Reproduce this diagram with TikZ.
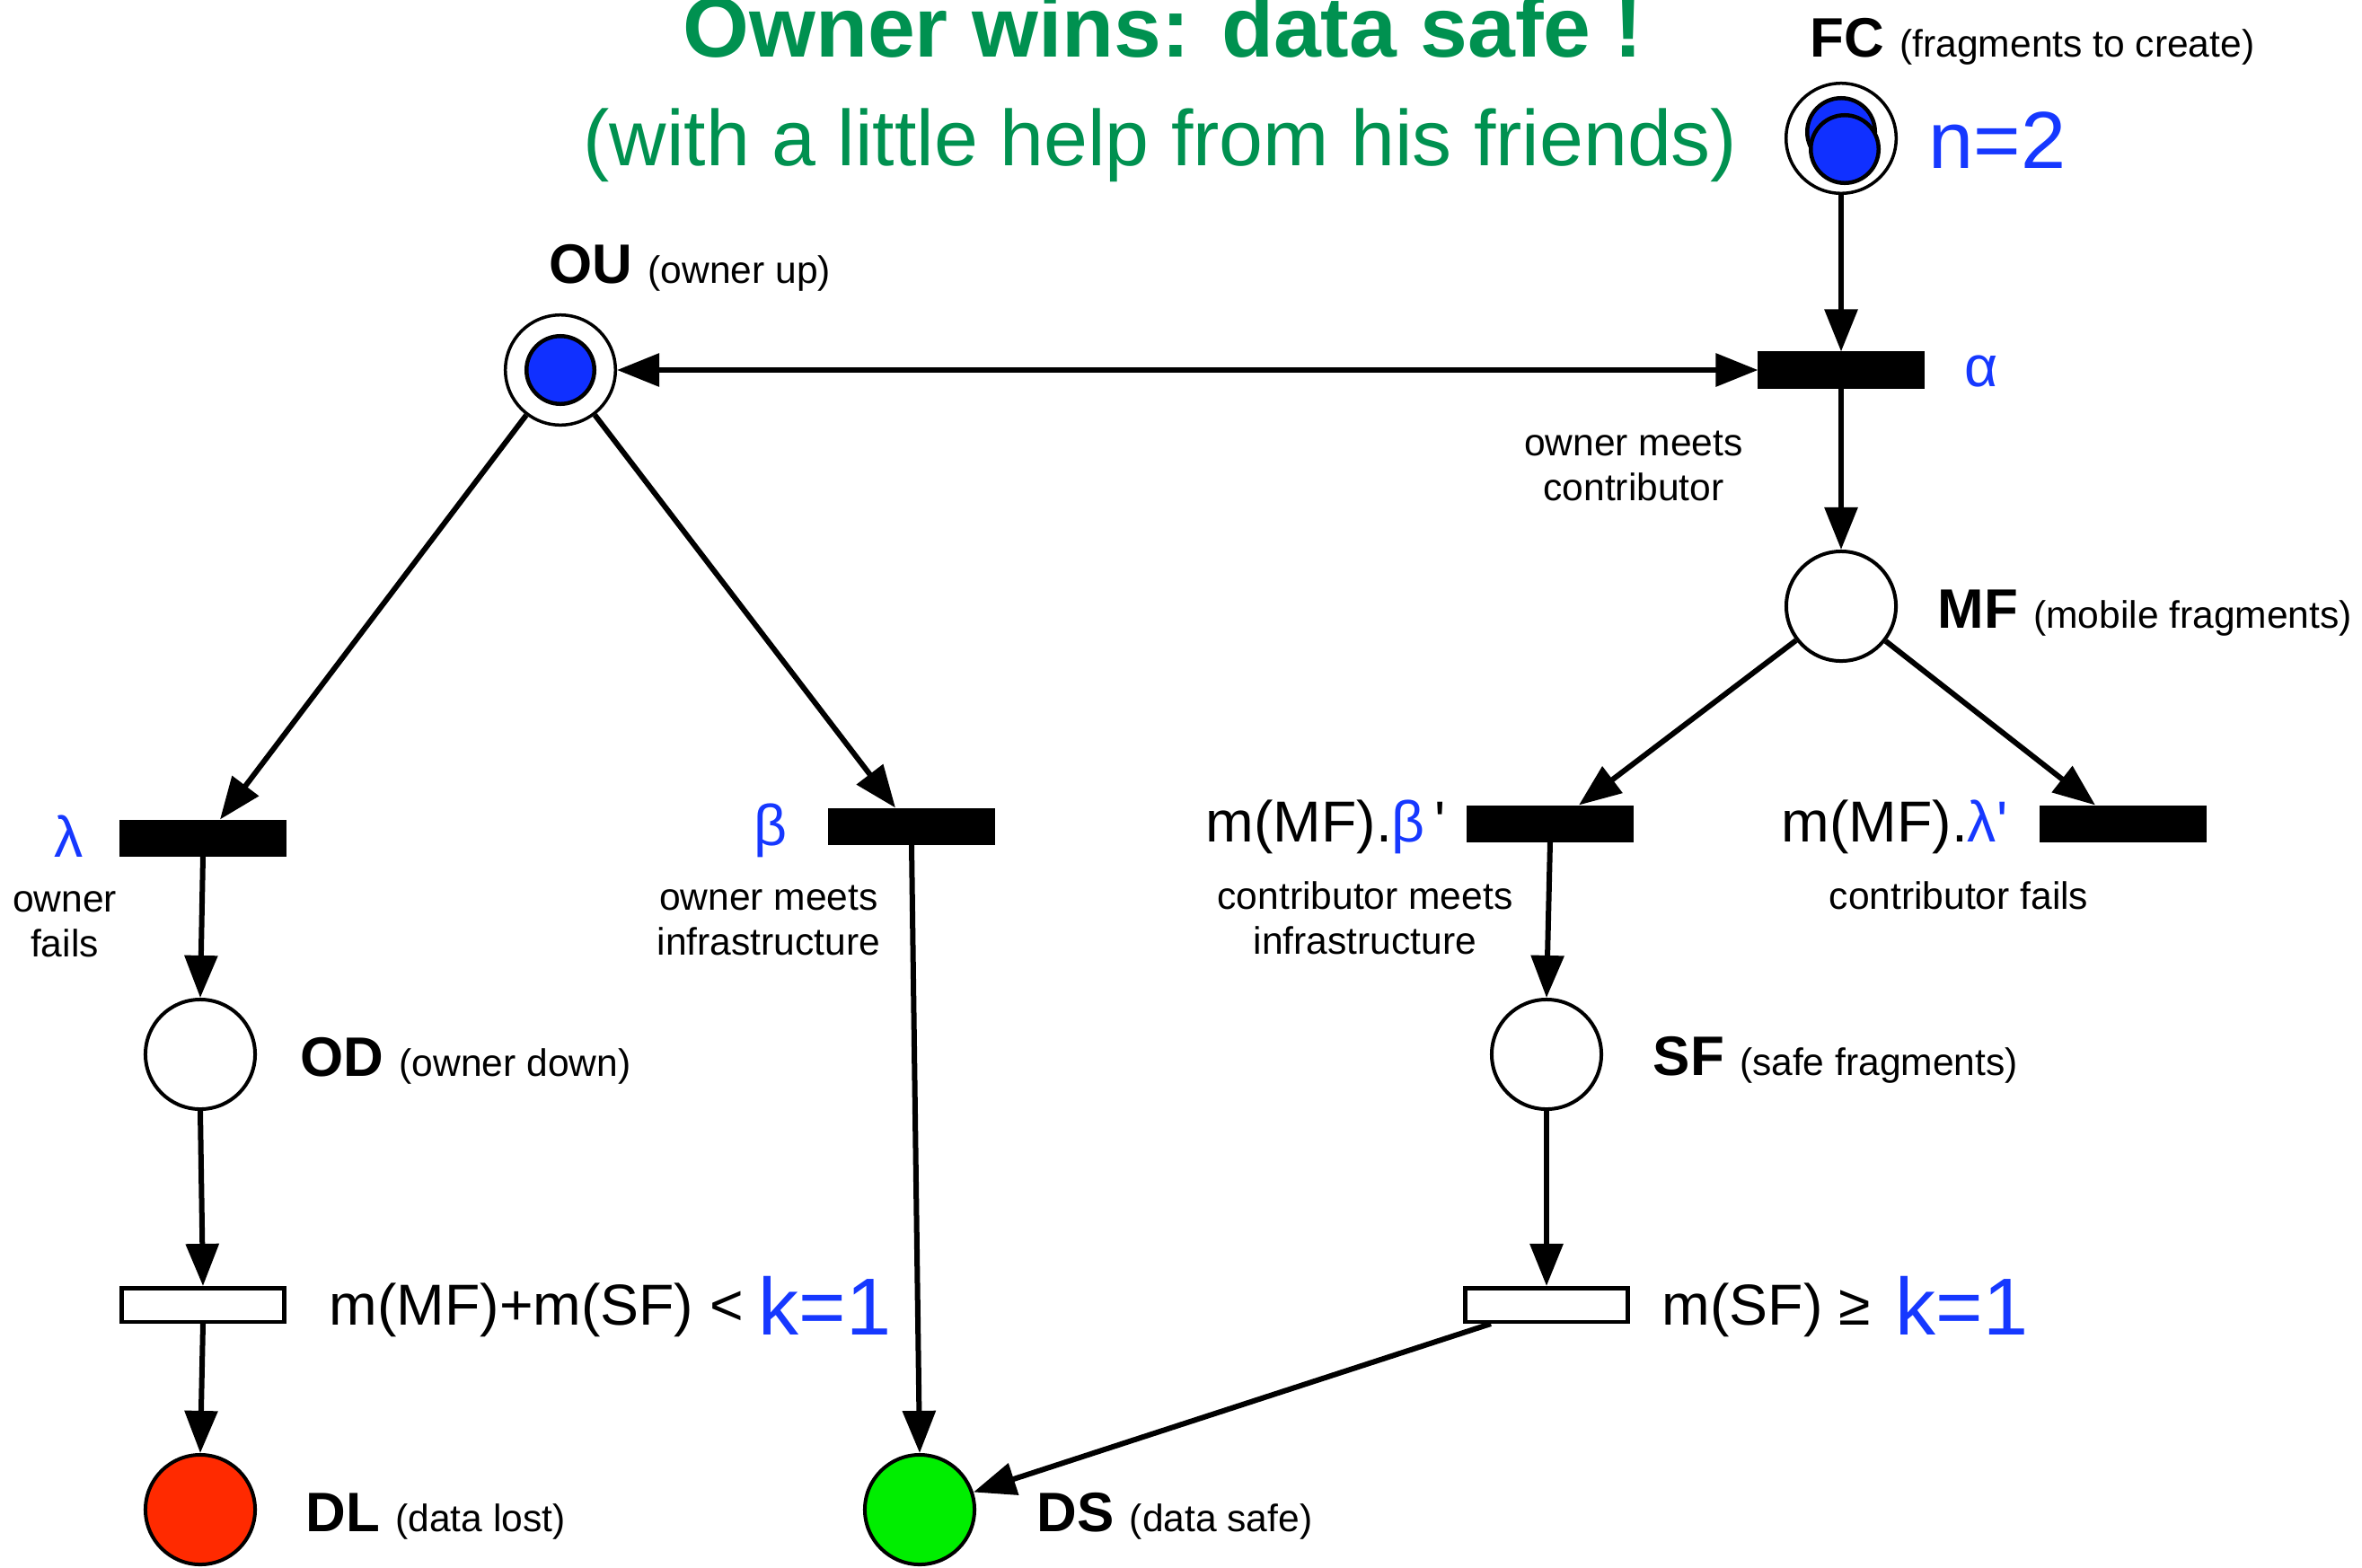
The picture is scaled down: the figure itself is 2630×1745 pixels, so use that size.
\documentclass[tikz,border=0pt]{standalone}
\usepackage{fontspec}
\setmainfont{Liberation Sans}
\usetikzlibrary{arrows.meta,calc}

\definecolor{netblue}{RGB}{22,56,255}
\definecolor{tokenblue}{RGB}{16,48,255}
\definecolor{titlegreen}{RGB}{0,145,80}
\definecolor{lostred}{RGB}{255,42,0}
\definecolor{safegreen}{RGB}{0,238,0}

\newcommand\titlefont{\fontsize{27}{32}\selectfont\bfseries}
\newcommand\subtitlefont{\fontsize{25}{30}\selectfont}
\newcommand\paramfont{\fontsize{25.6}{30}\selectfont}
\newcommand\labfont{\fontsize{17.6}{21}\selectfont\bfseries}
\newcommand\notefont{\fontsize{12.1}{14.2}\selectfont}
\newcommand\exprfont{\fontsize{18.3}{22}\selectfont}
% bold place name followed by its meaning in small type
\newcommand\placelabel[2]{#1\ {\notefont\mdseries #2}}

\tikzset{
  place/.style={circle, draw, line width=0.04cm, minimum size=1.22cm, inner sep=0pt, fill=white},
  ring/.style={circle, draw, line width=0.035cm, minimum size=1.225cm, inner sep=0pt},
  token/.style={circle, draw, line width=0.045cm, fill=tokenblue, minimum size=0.755cm, inner sep=0pt},
  trans/.style={rectangle, fill=black, minimum width=1.85cm, minimum height=0.41cm, inner sep=0pt, outer sep=0pt},
  wtrans/.style={rectangle, draw, fill=white, line width=0.045cm, minimum width=1.805cm, minimum height=0.375cm, inner sep=0pt},
  arc/.style={line width=0.06cm, -{Triangle[length=0.47cm,width=0.36cm]}},
  biarc/.style={line width=0.06cm, {Triangle[length=0.47cm,width=0.36cm]}-{Triangle[length=0.47cm,width=0.36cm]}},
  lab/.style={anchor=base west, inner sep=0pt, font=\labfont},
  expr/.style={anchor=base west, inner sep=0pt, font=\exprfont},
  param/.style={anchor=base west, inner sep=0pt, font=\paramfont, text=netblue},
  rate/.style={anchor=base, inner sep=0pt, font=\exprfont, text=netblue},
  % multi-line notes are anchored on the baseline of their last line
  note/.style={anchor=base, inner sep=0pt, font=\notefont, align=center}
}

\begin{document}
\begin{tikzpicture}[x=0.01cm, y=-0.01cm]
\useasboundingbox (0,0) rectangle (2630,1745);

% headings
\node[anchor=base, inner sep=0pt, text=titlegreen, font=\titlefont] (title) at (1295,63) {Owner wins: data safe !};
\node[anchor=base, inner sep=0pt, text=titlegreen, font=\subtitlefont] (subtitle) at (1292,184) {(with a little help from his friends)};

% places
\node[ring] (OU) at (624,412) {};
\node[token] (OUtok) at (624,412) {};
\node[ring] (FC) at (2050,154) {};
\node[token] (FCtokA) at (2050,147) {};
\node[token] (FCtokB) at (2054,166) {};
\node[place] (MF) at (2050,675) {};
\node[place] (OD) at (223,1174) {};
\node[place] (SF) at (1722,1174) {};
\node[place, fill=lostred] (DL) at (223,1681) {};
\node[place, fill=safegreen] (DS) at (1024,1681) {};

% transitions
\node[trans] (alpha) at (2050,412) {};
\node[trans] (lam) at (226,933) {};
\node[trans] (beta) at (1015,920) {};
\node[trans] (betap) at (1726,917) {};
\node[trans] (lamp) at (2364,917) {};
\node[wtrans] (tlost) at (226,1453) {};
\node[wtrans] (tsafe) at (1722,1453) {};

% arcs
\draw[arc] (FC) -- (alpha);
\draw[arc] (alpha) -- (MF);
\draw[biarc] (OU) -- (alpha);
\draw[arc] (OU) -- ($(lam.north)+(19,0)$);
\draw[arc] (OU) -- ($(beta.north)+(-18,0)$);
\draw[arc] (lam.south) -- (OD.north);
\draw[arc] (OD.south) -- (tlost.north);
\draw[arc] (tlost.south) -- (DL.north);
\draw[arc] (beta.south) -- (DS.north);
\draw[arc] (MF) -- ($(betap.north)+(32,0)$);
\draw[arc] (MF) -- ($(lamp.north)+(-31,0)$);
\draw[arc] (betap.south) -- (SF.north);
\draw[arc] (SF.south) -- (tsafe.north);
\draw[arc] ($(tsafe.south)+(-62,0)$) -- (DS);

% place labels
\node[lab] (FClab) at (2015,63) {\placelabel{FC}{(fragments to create)}};
\node[param] (nval) at (2147,187) {n=2};
\node[lab] (OUlab) at (611,315) {\placelabel{OU}{(owner up)}};
\node[lab] (MFlab) at (2157,699) {\placelabel{MF}{(mobile fragments)}};
\node[lab] (ODlab) at (334,1198) {\placelabel{OD}{(owner down)}};
\node[lab] (SFlab) at (1840,1197) {\placelabel{SF}{(safe fragments)}};
\node[lab] (DLlab) at (340,1705) {\placelabel{DL}{(data lost)}};
\node[lab] (DSlab) at (1154,1705) {\placelabel{DS}{(data safe)}};

% transition rates and descriptions
\node[rate] (alphalab) at (2206,430) {α};
\node[note] (alphanote) at (1819,557) {owner meets\\contributor};
\node[rate] (lamlab) at (77,954) {λ};
\node[note] (lamnote) at (72,1065) {owner\\fails};
\node[rate] (betalab) at (858,941) {β};
\node[note] (betanote) at (856,1063) {owner meets\\infrastructure};
\node[expr] (betaplab) at (1342,937) {m(MF).\textcolor{netblue}{β}\,\textquotesingle};
\node[note] (betapnote) at (1520,1062) {contributor meets\\infrastructure};
\node[expr] (lamplab) at (1983,937) {m(MF).\textcolor{netblue}{λ\textquotesingle}};
\node[note] (lampnote) at (2181,1012) {contributor fails};

% guards
\node[expr] (lostguard) at (366,1475) {m(MF)+m(SF) <};
\node[param] (lostk) at (844,1486) {k=1};
\node[expr] (safeguard) at (1850,1475) {m(SF) ≥};
\node[param] (safek) at (2110,1486) {k=1};
\end{tikzpicture}
\end{document}
